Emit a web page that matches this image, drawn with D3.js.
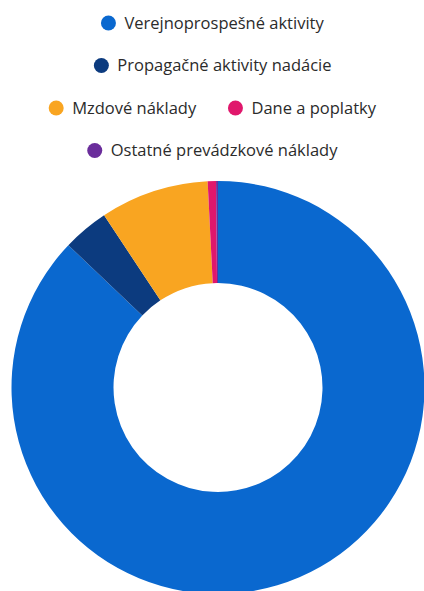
<!doctype html>
<html>
<head>
    <meta charset="utf-8">
    <title>Náklady</title>
    <script src="https://d3js.org/d3.v7.min.js"></script>
    <style>
        body { margin: 0; background: #fff; }
        svg { display: block; }
    </style>
</head>
<body>
    <svg id="chart" width="424" height="591"></svg>
    <script>
        // data (percent of total)
        let labels = ["Verejnoprospešné aktivity", "Propagačné aktivity nadácie", "Mzdové náklady", "Dane a poplatky", "Ostatné prevádzkové náklady"];
        let values = [87.1, 3.6, 8.5, 0.65, 0.15];
        let colors = ["#0a68cf", "#0c3b7f", "#f9a521", "#e0176c", "#6a2d9b"];

        var svg = d3.select("#chart");

        // legend, wrapped into centred rows
        var legend = svg.append("g").attr("class", "legend");
        var maxRow = 370, gap = 31, dotR = 7.5, dotGap = 8.5, rowH = 42.5, firstY = 23, midX = 212.7;

        var items = legend.selectAll("g.item")
          .data(labels)
          .enter()
          .append("g")
          .attr("class", "item");

        items.append("circle")
          .attr("r", dotR)
          .attr("cx", dotR)
          .style("fill", (d, i) => colors[i]);

        items.append("text")
          .attr("x", dotR * 2 + dotGap)
          .attr("dy", "0.36em")
          .style("font-family", "'Open Sans', sans-serif")
          .style("font-size", "16.5px")
          .style("fill", "#2b2b2b")
          .text(d => d);

        var rows = [], cur = [], curW = 0;
        items.each(function() {
            var w = this.getBBox().width;
            var add = cur.length ? gap + w : w;
            if (cur.length && curW + add > maxRow) {
                rows.push({ items: cur, width: curW });
                cur = []; curW = 0; add = w;
            }
            cur.push({ node: this, w: w });
            curW += add;
        });
        if (cur.length) rows.push({ items: cur, width: curW });

        rows.forEach((row, r) => {
            var x = midX - row.width / 2;
            row.items.forEach(it => {
                d3.select(it.node).attr("transform", "translate(" + x + "," + (firstY + r * rowH) + ")");
                x += it.w + gap;
            });
        });

        // donut
        var cx = 218, cy = 387.5, outerR = 206.5, innerR = 104.5;

        var pie = d3.pie().sort(null).value(d => d);
        var arc = d3.arc().innerRadius(innerR).outerRadius(outerR);

        svg.append("g")
          .attr("transform", "translate(" + cx + "," + cy + ")")
          .selectAll("path")
          .data(pie(values))
          .enter()
          .append("path")
          .attr("d", arc)
          .style("fill", (d, i) => colors[i]);
    </script>
</body>
</html>
